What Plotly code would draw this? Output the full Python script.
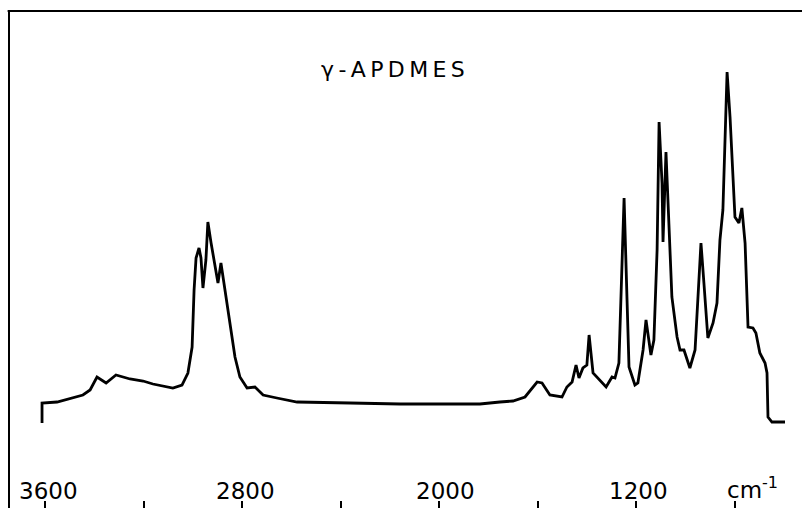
import plotly.graph_objects as go

# Wavenumbers (cm-1) and relative absorbance (arbitrary units)
wavenumber = [3612, 3612, 3551, 3446, 3417, 3389, 3352, 3312, 3255, 3202, 3162,
              3105, 3081, 3044, 3020, 3003, 2995, 2987, 2975, 2967, 2959, 2947,
              2939, 2926, 2910, 2898, 2886, 2874, 2849, 2829, 2809, 2780, 2748,
              2715, 2659, 2577, 2362, 2159, 1956, 1835, 1754, 1701, 1652, 1603,
              1583, 1551, 1502, 1482, 1461, 1445, 1433, 1417, 1401, 1392, 1376,
              1348, 1323, 1299, 1287, 1271, 1250, 1238, 1230, 1206, 1194, 1173,
              1161, 1141, 1129, 1116, 1108, 1096, 1092, 1080, 1072, 1056, 1035,
              1023, 1007, 983, 962, 950, 938, 926, 910, 889, 873, 861, 849, 832,
              820, 800, 784, 772, 759, 747, 727, 715, 699, 678, 670, 666, 650, 597]
absorbance = [-1, 19, 20, 27, 32, 45, 39, 47, 43, 41, 38,
              35, 34, 37, 49, 75, 132, 164, 174, 164, 134, 162,
              200, 179, 155, 139, 159, 139, 102, 65, 45, 34, 35,
              27, 24, 20, 19, 18, 18, 18, 20, 21, 25, 40,
              39, 27, 25, 35, 40, 57, 44, 54, 57, 87, 49,
              42, 35, 45, 44, 59, 224, 122, 55, 37, 39, 72,
              102, 67, 82, 172, 300, 239, 180, 270, 225, 125, 85,
              72, 72, 54, 72, 132, 179, 139, 84, 99, 119, 182, 212, 350,
              305, 205, 199, 214, 179, 95, 94, 89, 69, 59, 49, 5, 0, 0]

tick_values = [3600, 3200, 2800, 2400, 2000, 1600, 1200, 800]
label_values = [3600, 2800, 2000, 1200]
label_texts = ["3600", "2800", "2000", "1200"]
label_shifts = [4, 3, 6, 2]
unit_text = "cm<sup>-1</sup>"
title_text = "\u03b3\u2009-\u2009A\u2009P\u2009D\u2009M\u2009E\u2009S"

fig = go.Figure()
fig.add_trace(go.Scatter(x=wavenumber, y=absorbance, mode="lines",
                         line=dict(color="black", width=2.8),
                         hoverinfo="skip", showlegend=False))

font = dict(family="DejaVu Sans", color="black")
annotations = []
for v, t, s in zip(label_values, label_texts, label_shifts):
    annotations.append(dict(x=v, y=0.034, xref="x", yref="paper", text=t,
                            showarrow=False, xshift=s, yanchor="middle",
                            font=dict(size=23, **font)))
annotations.append(dict(x=800, y=0.04, xref="x", yref="paper", text=unit_text,
                        showarrow=False, xshift=18, yanchor="middle",
                        font=dict(size=23, **font)))
annotations.append(dict(x=0.484, y=0.88, xref="paper", yref="paper", text=title_text,
                        showarrow=False, yanchor="middle",
                        font=dict(size=22, **font)))

fig.update_layout(
    width=802, height=508,
    margin=dict(l=10, r=0, t=10, b=0),
    paper_bgcolor="white", plot_bgcolor="white",
    xaxis=dict(range=[3742, 528], tickvals=tick_values, ticks="inside",
               ticklen=7, tickwidth=1.5, tickcolor="black",
               showticklabels=False, showgrid=False, zeroline=False,
               showline=False),
    yaxis=dict(range=[-86, 412], showticklabels=False, showgrid=False,
               zeroline=False, showline=True, linecolor="black", linewidth=2,
               ticks=""),
    annotations=annotations,
    shapes=[dict(type="line", xref="paper", yref="paper", x0=-0.003, x1=1,
                 y0=0.998, y1=0.998, line=dict(color="black", width=2))],
)

fig.write_html("out.html",
               config={"displayModeBar": False},
               post_script="document.body.style.margin='0';"
                           "document.body.style.overflow='hidden';")
